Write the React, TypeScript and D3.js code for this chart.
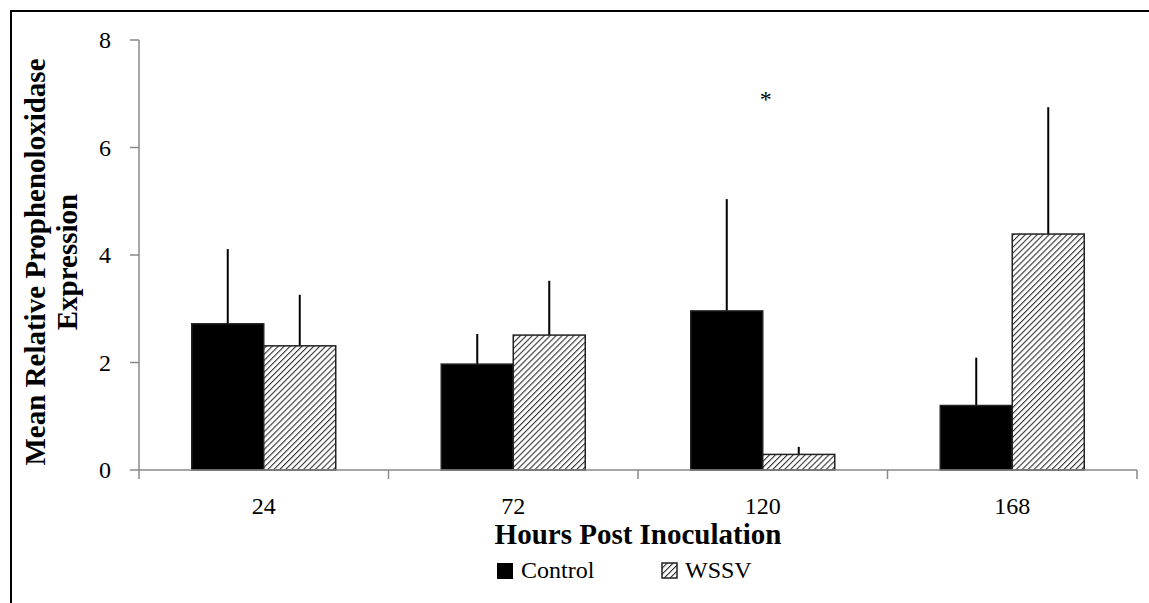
import React from "react";
import * as d3 from "d3";

const categories = ["24", "72", "120", "168"];
const seriesNames = ["Control", "WSSV"];
const controlMeans = [2.72, 1.97, 2.96, 1.2];
const controlErr = [1.39, 0.56, 2.08, 0.89];
const wssvMeans = [2.31, 2.51, 0.29, 4.39];
const wssvErr = [0.95, 1.01, 0.14, 2.36];
const yTicks = [0, 2, 4, 6, 8];
const significance = ["", "", "*", ""];

const W = 1149;
const H = 603;
const FONT = "Liberation Serif";
const REG = 24;

export default function App() {
  const x0 = d3.scaleBand().domain(categories).range([139, 1137]).paddingInner(0).paddingOuter(0);
  const y = d3.scaleLinear().domain([0, 8]).range([470, 40]);
  const bw = 72;
  const series = [
    { name: seriesNames[0], means: controlMeans, errs: controlErr },
    { name: seriesNames[1], means: wssvMeans, errs: wssvErr },
  ];
  const axisColor = "#898989";
  const txt = { fontFamily: FONT };
  const bold = { fontFamily: FONT, fontWeight: "bold" };

  return (
    <svg width={W} height={H} style={{ position: "absolute", left: 0, top: 0, background: "#fff" }}>
      <defs>
        <pattern id="hatch" patternUnits="userSpaceOnUse" width={4.2} height={4.2} patternTransform="rotate(45)">
          <rect width={4.2} height={4.2} fill="#fff" />
          <line x1={0} y1={0} x2={0} y2={4.2} stroke="#333" strokeWidth={2.2} />
        </pattern>
      </defs>
      <rect x={0} y={0} width={W} height={H} fill="#fff" />
      <rect x={11} y={11} width={W + 20} height={H + 20} fill="none" stroke="#000" strokeWidth={2} />

      <line x1={139} x2={139} y1={y(8)} y2={y(0)} stroke={axisColor} strokeWidth={1.5} />
      {yTicks.map((t) => (
        <g key={t}>
          <line x1={130} x2={139} y1={y(t)} y2={y(t)} stroke={axisColor} strokeWidth={1.5} />
          <text x={111} y={y(t)} dy="0.35em" textAnchor="end" fontSize={REG} style={txt}>
            {t}
          </text>
        </g>
      ))}

      {categories.map((c, i) => {
        const cx = (x0(c) as number) + x0.bandwidth() / 2;
        return (
          <g key={c}>
            {series.map((s, j) => {
              const bx = cx - bw + j * bw;
              const top = y(s.means[i]);
              const errTop = y(s.means[i] + s.errs[i]);
              return (
                <g key={s.name}>
                  <line x1={bx + bw / 2} x2={bx + bw / 2} y1={errTop} y2={top} stroke="#000" strokeWidth={2} />
                  <rect x={bx} y={top} width={bw} height={y(0) - top}
                    fill={j === 0 ? "#000" : "url(#hatch)"} stroke="#222" strokeWidth={1.5} />
                </g>
              );
            })}
            {significance[i] && (
              <text x={cx + 3} y={y(7.0)} dy="0.55em" textAnchor="middle" fontSize={REG} style={txt}>
                {significance[i]}
              </text>
            )}
          </g>
        );
      })}

      <line x1={139} x2={1137} y1={y(0)} y2={y(0)} stroke={axisColor} strokeWidth={1.5} />
      {[...categories.map((c) => x0(c) as number), 1137].map((xv, k) => (
        <line key={k} x1={xv} x2={xv} y1={y(0)} y2={y(0) + 9} stroke={axisColor} strokeWidth={1.5} />
      ))}
      {categories.map((c) => (
        <text key={c} x={(x0(c) as number) + x0.bandwidth() / 2} y={514} textAnchor="middle" fontSize={REG} style={txt}>
          {c}
        </text>
      ))}

      <text x={638} y={544} textAnchor="middle" fontSize={29} style={bold}>
        Hours Post Inoculation
      </text>
      <g transform="translate(45,262) rotate(-90)">
        <text x={0} y={0} textAnchor="middle" fontSize={29} style={bold}>Mean Relative Prophenoloxidase</text>
        <text x={0} y={32} textAnchor="middle" fontSize={29} style={bold}>Expression</text>
      </g>

      <rect x={497} y={563} width={16} height={16} fill="#000" />
      <text x={521} y={578} fontSize={REG} style={txt}>{seriesNames[0]}</text>
      <rect x={662} y={563} width={15} height={15} fill="url(#hatch)" stroke="#222" strokeWidth={1.5} />
      <text x={685} y={578} fontSize={REG} style={txt}>{seriesNames[1]}</text>
    </svg>
  );
}
